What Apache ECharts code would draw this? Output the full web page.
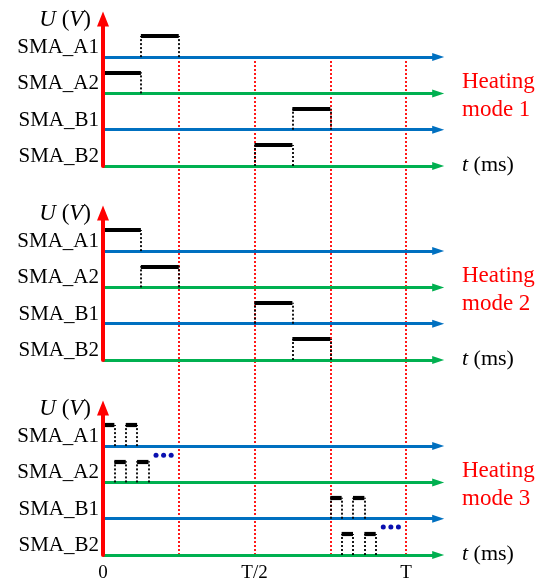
<!DOCTYPE html>
<html><head><meta charset="utf-8">
<script src="https://cdn.jsdelivr.net/npm/echarts@6/dist/echarts.min.js"></script>
<style>html,body{margin:0;padding:0;background:#fff}#c{width:550px;height:584px}</style>
</head><body><div id="c"></div>
<script>
// ---- data ----
const channels = ['SMA_B2', 'SMA_B1', 'SMA_A2', 'SMA_A1']; // levels 0..3
const modeTitles = ['Heating\nmode 1', 'Heating\nmode 2', 'Heating\nmode 3'];
const timeTickValues = [0, 4, 8];          // in units of T/8
const timeTickLabels = ['0', 'T/2', 'T'];
const quarterTimes = [2, 4, 6, 8];
const pulseAmplitude = 0.58;
// pulses [start, end] per channel, order B2, B1, A2, A1
const mode1Pulses = [[[4, 5]], [[5, 6]], [[0, 1]], [[1, 2]]];
const mode2Pulses = [[[5, 6]], [[4, 5]], [[1, 2]], [[0, 1]]];
const mode3Pulses = [
  [[6.3, 6.6], [6.9, 7.2]],
  [[6.0, 6.3], [6.6, 6.9]],
  [[0.3, 0.6], [0.9, 1.2]],
  [[0.0, 0.3], [0.6, 0.9]]
];
const mode3Dots = [[1.4, 2.75], [1.6, 2.75], [1.8, 2.75], [7.4, 0.77], [7.6, 0.77], [7.8, 0.77]];
const modes = [mode1Pulses, mode2Pulses, mode3Pulses];

// ---- layout / style ----
const FONT = '"Liberation Serif", "Times New Roman", serif';
const unitX = 37.875, xMax = 9.2, lineEnd = 8.85;
const unitY = 36.3, yMax = 4.05;
const gridLeft = 103, gridWidth = xMax * unitX, gridHeight = yMax * unitY;
const panelBottoms = [166, 360, 555];
const lineColors = ['#00B050', '#0070C0', '#00B050', '#0070C0'];

const grid = [], xAxis = [], yAxis = [], series = [], graphic = [];

panelBottoms.forEach((bottom, i) => {
  grid.push({ left: gridLeft, top: bottom - gridHeight, width: gridWidth, height: gridHeight });
  xAxis.push({ gridIndex: i, type: 'value', min: 0, max: xMax, show: false });
  yAxis.push({
    gridIndex: i, type: 'value', min: 0, max: yMax, interval: 1, z: 10,
    name: '{i|U} ({i|V})', nameLocation: 'end', nameGap: -1,
    nameTextStyle: {
      fontSize: 23, fontFamily: FONT, color: '#000', align: 'right', verticalAlign: 'middle',
      padding: [0, 12, 0, 0],
      rich: { i: { fontStyle: 'italic', fontSize: 23, fontFamily: FONT, color: '#000' } }
    },
    axisLine: { show: true, onZero: false, lineStyle: { color: '#FF0000', width: 4 },
      symbol: ['none', 'triangle'], symbolSize: [12, 15] },
    axisTick: { show: false }, splitLine: { show: false },
    axisLabel: {
      formatter: v => (Number.isInteger(v) && v < channels.length) ? channels[v] : '',
      fontSize: 21, fontFamily: FONT, color: '#000', margin: 4,
      verticalAlign: 'bottom', lineHeight: 19
    }
  });
  // baselines
  channels.forEach((ch, lvl) => {
    series.push({
      type: 'lines', coordinateSystem: 'cartesian2d', xAxisIndex: i, yAxisIndex: i,
      clip: false, silent: true, z: 3,
      symbol: ['none', 'triangle'], symbolSize: [1, [8, 12]],
      lineStyle: { color: lineColors[lvl], width: 2.8, opacity: 1, curveness: 0 },
      data: [{ coords: [[0, lvl], [lineEnd, lvl]] }]
    });
  });
  const pulses = modes[i];
  const tops = [], sides = [];
  pulses.forEach((list, lvl) => {
    list.forEach(([s, e]) => {
      const h = lvl + pulseAmplitude;
      tops.push({ coords: [[s, h], [e, h]] });
      sides.push({ coords: [[s, lvl], [s, h]] });
      sides.push({ coords: [[e, lvl], [e, h]] });
    });
  });
  series.push({
    type: 'lines', coordinateSystem: 'cartesian2d', xAxisIndex: i, yAxisIndex: i,
    clip: false, silent: true, z: 5, symbol: 'none',
    lineStyle: { color: '#000', width: 4.2, opacity: 1, curveness: 0, cap: 'butt' },
    data: tops
  });
  series.push({
    type: 'lines', coordinateSystem: 'cartesian2d', xAxisIndex: i, yAxisIndex: i,
    clip: false, silent: true, z: 4, symbol: 'none',
    lineStyle: { color: '#000', width: 1.8, opacity: 1, curveness: 0, type: [2, 2] },
    data: sides
  });
  // texts on the right
  const off = bottom - panelBottoms[0];
  graphic.push({
    type: 'text', x: 462, y: 95.6 + off, silent: true,
    style: { text: modeTitles[i], fill: '#FF0000', font: '23px ' + FONT, lineHeight: 28,
      verticalAlign: 'middle', align: 'left' }
  });
  graphic.push({
    type: 'text', x: 462, y: bottom - 1, silent: true,
    style: { text: '{i|t} (ms)', fill: '#000', font: '22px ' + FONT, verticalAlign: 'middle', align: 'left',
      rich: { i: { fontStyle: 'italic', fontSize: 22, fontFamily: FONT, fill: '#000' } } }
  });
});

series.push({
  type: 'scatter', xAxisIndex: 2, yAxisIndex: 2, silent: true, z: 6,
  symbol: 'circle', symbolSize: 5, itemStyle: { color: '#0A10B0', opacity: 1 },
  data: mode3Dots
});

// overlay grid for the T/4 marks and time labels
grid.push({ left: gridLeft, top: 57, width: gridWidth, height: 555 - 57 });
xAxis.push({
  gridIndex: 3, type: 'value', min: 0, max: xMax, interval: 4,
  axisLine: { show: false }, axisTick: { show: false }, splitLine: { show: false },
  axisLabel: {
    formatter: v => { const k = timeTickValues.indexOf(v); return k >= 0 ? timeTickLabels[k] : ''; },
    fontSize: 19, fontFamily: FONT, color: '#000', margin: 9
  }
});
yAxis.push({ gridIndex: 3, type: 'value', min: 0, max: 1, show: false });
series.push({
  type: 'lines', coordinateSystem: 'cartesian2d', xAxisIndex: 3, yAxisIndex: 3,
  clip: false, silent: true, z: 1, symbol: 'none',
  lineStyle: { color: '#FF0000', width: 1.8, opacity: 1, curveness: 0, type: [2, 2] },
  data: quarterTimes.map(t => ({ coords: [[t, 0], [t, 1]] }))
});

const chart = echarts.init(document.getElementById('c'), null, { renderer: 'canvas' });
chart.setOption({ animation: false, backgroundColor: '#fff', grid, xAxis, yAxis, series, graphic });
</script></body></html>
